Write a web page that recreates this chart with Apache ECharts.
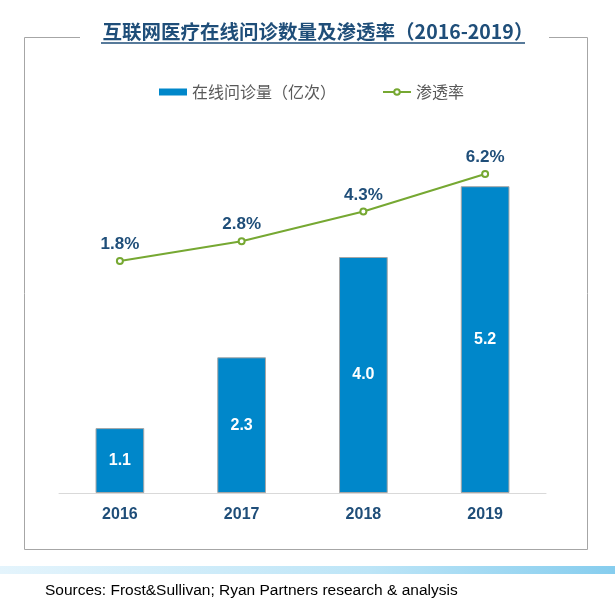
<!DOCTYPE html>
<html>
<head>
<meta charset="utf-8">
<script src="https://cdn.jsdelivr.net/npm/echarts@6/dist/echarts.min.js"></script>
<style>
html,body{margin:0;padding:0;background:#fff;}
#chart{width:615px;height:611px;}
</style>
</head>
<body>
<div id="chart"></div>
<script>
const titleText = '互联网医疗在线问诊数量及渗透率（2016-2019）';
const categories = ['2016', '2017', '2018', '2019'];
const visitsName = '在线问诊量（亿次）';
const visits = [1.1, 2.3, 4.0, 5.2];
const rateName = '渗透率';
const rates = [1.8, 2.8, 4.3, 6.2];
const sourceText = 'Sources: Frost&Sullivan; Ryan Partners research & analysis';

const CJK = '"Noto Sans CJK SC", "Noto Sans", sans-serif';
const NAVY = '#1F4E79';

const chart = echarts.init(document.getElementById('chart'), null, {renderer: 'canvas'});
chart.setOption({
  animation: false,
  backgroundColor: '#ffffff',
  title: {
    text: titleText,
    left: 313,
    textAlign: 'center',
    top: 17,
    textStyle: {fontFamily: CJK, fontSize: 19.5, fontWeight: 'bold', color: NAVY}
  },
  legend: {
    left: 154,
    top: 79,
    itemGap: 46,
    itemWidth: 28,
    itemHeight: 7,
    textStyle: {fontFamily: CJK, fontSize: 16, color: '#595959'},
    data: [
      {name: visitsName, icon: 'rect', itemStyle: {borderWidth: 0}},
      {name: rateName}
    ]
  },
  grid: {left: 59, right: 69, top: 139, bottom: 118, containLabel: false},
  xAxis: {
    type: 'category',
    data: categories,
    axisLine: {lineStyle: {color: '#D9D9D9', width: 1}},
    axisTick: {show: false},
    axisLabel: {margin: 14, fontFamily: 'Liberation Sans, Arial, sans-serif', fontSize: 16, fontWeight: 'bold', color: NAVY}
  },
  yAxis: [
    {type: 'value', min: 0, max: 6, show: false, splitLine: {show: false}},
    {type: 'value', min: -9.93, max: 7.97, show: false, splitLine: {show: false}}
  ],
  series: [
    {
      name: visitsName,
      type: 'bar',
      data: visits,
      barWidth: '40%',
      itemStyle: {color: '#0087CA', borderColor: '#A6A6A6', borderWidth: 1},
      label: {
        show: true,
        position: 'inside',
        formatter: p => p.value.toFixed(1),
        fontFamily: 'Liberation Sans, Arial, sans-serif',
        fontSize: 16,
        fontWeight: 'bold',
        color: '#ffffff'
      }
    },
    {
      name: rateName,
      type: 'line',
      yAxisIndex: 1,
      data: rates,
      symbol: 'emptyCircle',
      symbolSize: 6,
      lineStyle: {color: '#76A832', width: 2},
      itemStyle: {color: '#76A832', borderWidth: 1.5},
      label: {
        show: true,
        position: 'top',
        distance: 4,
        formatter: p => p.value.toFixed(1) + '%',
        fontFamily: 'Liberation Sans, Arial, sans-serif',
        fontSize: 17,
        fontWeight: 'bold',
        color: NAVY
      }
    }
  ],
  graphic: [
    {
      type: 'polyline',
      shape: {points: [[80, 37.5], [24.5, 37.5], [24.5, 549.5], [587.5, 549.5], [587.5, 37.5], [549, 37.5]]},
      style: {stroke: '#A6A6A6', lineWidth: 1, fill: null},
      silent: true
    },
    {
      type: 'line',
      shape: {x1: 101, y1: 43, x2: 525, y2: 43},
      style: {stroke: NAVY, lineWidth: 1.5},
      silent: true
    },
    {
      type: 'rect',
      shape: {x: 0, y: 566, width: 615, height: 8},
      style: {
        fill: new echarts.graphic.LinearGradient(0, 0, 1, 0, [
          {offset: 0, color: '#E4F4FC'},
          {offset: 0.6, color: '#BDE5F7'},
          {offset: 1, color: '#86CDEE'}
        ])
      },
      silent: true
    },
    {
      type: 'text',
      left: 45,
      top: 583,
      style: {
        text: sourceText,
        font: '15.5px "Liberation Sans", Arial, sans-serif',
        fill: '#000000'
      },
      silent: true
    }
  ]
});
</script>
</body>
</html>
